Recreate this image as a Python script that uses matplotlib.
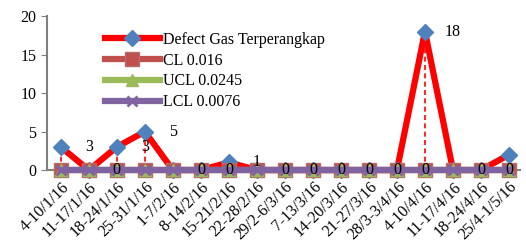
import numpy as np
import matplotlib.pyplot as plt

plt.rcParams['font.family'] = ['Liberation Serif', 'DejaVu Serif']

weeks = ['4-10/1/16', '11-17/1/16', '18-24/1/16', '25-31/1/16', '1-7/2/16',
         '8-14/2/16', '15-21/2/16', '22-28/2/16', '29/2-6/3/16', '7-13/3/16',
         '14-20/3/16', '21-27/3/16', '28/3-3/4/16', '4-10/4/16', '11-17/4/16',
         '18-24/4/16', '25/4-1/5/16']
defect = [3, 0, 3, 5, 0, 0, 1, 0, 0, 0, 0, 0, 0, 18, 0, 0, 2]
cl = [0.016] * len(weeks)
ucl = [0.0245] * len(weeks)
lcl = [0.0076] * len(weeks)

x = np.arange(len(weeks))

fig = plt.figure(figsize=(5.26, 2.44), dpi=100)
ax = fig.add_axes([0.089, 0.303, 0.9, 0.631])

# drop lines from the points down to the axis
ax.vlines(x, 0, defect, colors='red', linestyles=(0, (3, 2)), lw=1.2, zorder=1)

ax.plot(x, defect, color='red', lw=4.5, marker='D', ms=8,
        mfc='#4F81BD', mec='#4F81BD', label='Defect Gas Terperangkap',
        zorder=2, clip_on=False)
ax.plot(x, cl, color='#C0504D', lw=4.5, marker='s', ms=10,
        mfc='#C0504D', mec='#B56C6A', label='CL 0.016', zorder=3, clip_on=False)
ax.plot(x, ucl, color='#9BBB59', lw=4.5, marker='^', ms=9,
        mfc='#9BBB59', mec='#9BBB59', label='UCL 0.0245', zorder=4, clip_on=False)
ax.plot(x, lcl, color='#8064A2', lw=4.5, marker='x', ms=7, mew=2,
        mfc='#8064A2', mec='#8064A2', label='LCL 0.0076', zorder=5, clip_on=False)

# data labels sit one category to the right, as in the source chart
for i, v in enumerate(defect):
    ax.text(x[i] + 1, v, str(v), ha='center', va='center', fontsize=11.5,
            zorder=6, clip_on=False)

ax.set_xlim(-0.5, 16.4)
ax.set_ylim(0, 20)
ax.set_yticks([0, 5, 10, 15, 20])
ax.set_xticks(x)
ax.set_xticklabels(weeks, rotation=45, ha='right', rotation_mode='anchor')
ax.tick_params(axis='both', labelsize=11.5, color='#808080', length=4)
ax.tick_params(axis='x', length=3)

for s in ['top', 'right']:
    ax.spines[s].set_visible(False)
for s in ['left', 'bottom']:
    ax.spines[s].set_color('#808080')
    ax.spines[s].set_linewidth(1.5)
ax.spines['bottom'].set_zorder(0)

leg = ax.legend(loc='upper left', bbox_to_anchor=(0.11, 0.94), frameon=False,
                fontsize=11.5, handlelength=3.4, labelspacing=0.3,
                handletextpad=0.2, borderaxespad=0)

fig.savefig('out.png', dpi=100)
